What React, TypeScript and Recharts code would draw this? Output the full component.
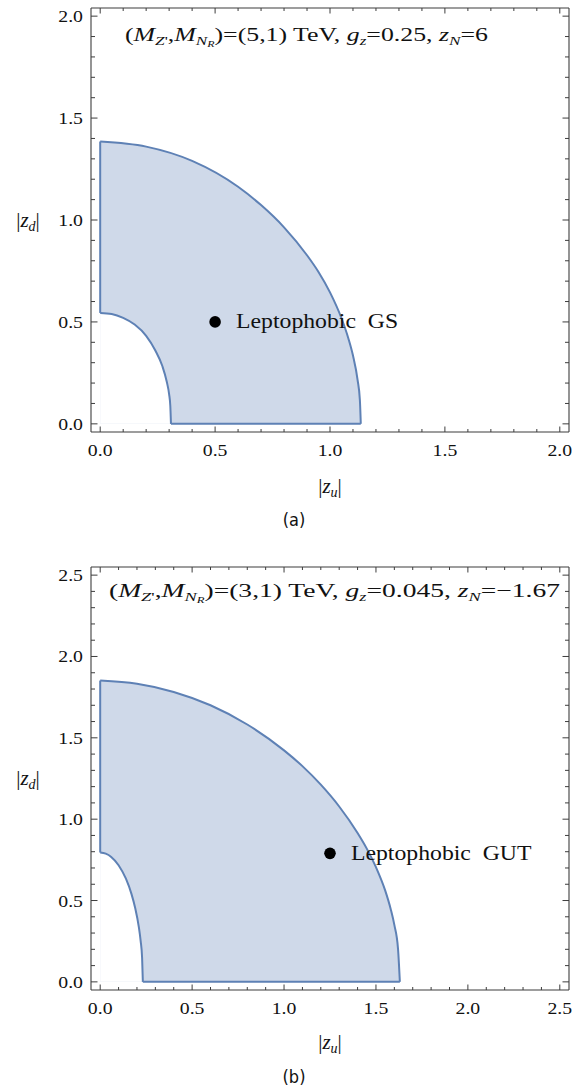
import React from "react";
import { ComposedChart, Area, Line, Scatter, XAxis, YAxis } from "recharts";

// panel (a): (M_Z', M_NR) = (5,1) TeV
const A_OUTER_X = [0, 0.2, 0.4, 0.6, 0.7, 0.8, 0.9, 0.95, 1.0, 1.05, 1.08, 1.1, 1.12, 1.13, 1.134];
const A_OUTER_Y = [1.385, 1.36, 1.29, 1.163, 1.073, 0.964, 0.827, 0.745, 0.645, 0.518, 0.419, 0.335, 0.216, 0.117, 0];
const A_INNER_X = [0, 0.05, 0.1, 0.15, 0.2, 0.24, 0.27, 0.29, 0.3, 0.305, 0.308];
const A_INNER_Y = [0.544, 0.539, 0.52, 0.487, 0.432, 0.36, 0.285, 0.205, 0.145, 0.09, 0];
const A_POINT = [{ x: 0.5, y: 0.5, name: "Leptophobic\u00a0 GS" }];
const A_TICKS = [0, 0.1, 0.2, 0.3, 0.4, 0.5, 0.6, 0.7, 0.8, 0.9, 1, 1.1, 1.2, 1.3, 1.4, 1.5, 1.6, 1.7, 1.8, 1.9, 2];
const A_DOMAIN = [-0.04, 2.04];

// panel (b): (M_Z', M_NR) = (3,1) TeV
const B_OUTER_X = [0, 0.2, 0.4, 0.6, 0.8, 1.0, 1.1, 1.2, 1.3, 1.4, 1.45, 1.5, 1.55, 1.58, 1.6, 1.62, 1.63];
const B_OUTER_Y = [1.852, 1.832, 1.782, 1.7, 1.582, 1.423, 1.326, 1.212, 1.078, 0.915, 0.819, 0.705, 0.562, 0.448, 0.35, 0.203, 0];
const B_INNER_X = [0, 0.03, 0.06, 0.1, 0.14, 0.17, 0.19, 0.21, 0.22, 0.228, 0.232];
const B_INNER_Y = [0.795, 0.788, 0.768, 0.717, 0.634, 0.541, 0.456, 0.338, 0.252, 0.147, 0];
const B_POINT = [{ x: 1.25, y: 0.79, name: "Leptophobic\u00a0 GUT" }];
const B_TICKS = [0, 0.1, 0.2, 0.3, 0.4, 0.5, 0.6, 0.7, 0.8, 0.9, 1, 1.1, 1.2, 1.3, 1.4, 1.5, 1.6, 1.7, 1.8, 1.9, 2, 2.1, 2.2, 2.3, 2.4, 2.5];
const B_DOMAIN = [-0.05, 2.55];

const FRAME = "#3d3d3d";
const EDGE = "#5e81b5";
const FILL = "#cfd9e9";
const SERIF = "Liberation Serif, serif";
const STRETCH = 1.13;
const PLOT_LEFT = 91;
const PLOT_RIGHT_GAP = 7;
const PLOT_W = 576 - PLOT_LEFT - PLOT_RIGHT_GAP;

const zip = (xs: number[], ys: number[]) => xs.map((x, i) => ({ x, y: ys[i] }));
const isMajor = (v: number) => Math.abs(v * 2 - Math.round(v * 2)) < 1e-6;

// tick marks as one broken line per frame side (null y breaks the path)
function xTicks(ticks: number[], base: number, unitsPerPx: number, dir: number) {
  const out: any[] = [];
  ticks.forEach((v) => {
    const len = (isMajor(v) ? 5.5 : 3) * unitsPerPx;
    out.push({ x: v, y: base }, { x: v, y: base + dir * len }, { x: v, y: null });
  });
  return out;
}
function yTicks(ticks: number[], base: number, unitsPerPx: number, dir: number) {
  const out: any[] = [];
  ticks.forEach((v) => {
    const len = (isMajor(v) ? 6.5 : 4) * unitsPerPx;
    out.push({ x: base, y: v }, { x: base + dir * len, y: v }, { x: base, y: null });
  });
  return out;
}

const tickText = (x: number, y: number, anchor: string, v: number) => (
  <text transform={`translate(${x},${y}) scale(${STRETCH},1)`} textAnchor={anchor}
    fontFamily={SERIF} fontSize={17.5} fill="#111">
    {v.toFixed(1)}
  </text>
);
const BottomLabel = (p: any) => (isMajor(p.payload.value) ? tickText(p.x, p.y + 24, "middle", p.payload.value) : <g />);
const LeftLabel = (p: any) => (isMajor(p.payload.value) ? tickText(p.x - 8, p.y + 6, "end", p.payload.value) : <g />);

const pointShape = (p: any) => (
  <g>
    <circle cx={p.cx} cy={p.cy} r={5.8} fill="#000" />
    <text transform={`translate(${p.cx + 21},${p.cy + 6.5}) scale(${STRETCH},1)`}
      fontFamily={SERIF} fontSize={21} fill="#111">
      {p.payload.name}
    </text>
  </g>
);

const Title = ({ x, y, len, mz, g, zn }: any) => (
  <text x={x} y={y} fontFamily={SERIF} fontSize={19.5} fill="#111" textLength={len} lengthAdjust="spacingAndGlyphs">
    {"("}
    <tspan fontStyle="italic">M</tspan>
    <tspan fontStyle="italic" fontSize={13} dy={4}>Z</tspan>
    <tspan fontSize={13}>{"'"}</tspan>
    <tspan dy={-4}>{","}</tspan>
    <tspan fontStyle="italic">M</tspan>
    <tspan fontStyle="italic" fontSize={13} dy={4}>N</tspan>
    <tspan fontStyle="italic" fontSize={9} dy={2}>R</tspan>
    <tspan dy={-6}>{`)=(${mz},1) TeV, `}</tspan>
    <tspan fontStyle="italic">g</tspan>
    <tspan fontStyle="italic" fontSize={13} dy={4}>z</tspan>
    <tspan dy={-4}>{`=${g}, `}</tspan>
    <tspan fontStyle="italic">z</tspan>
    <tspan fontStyle="italic" fontSize={13} dy={4}>N</tspan>
    <tspan dy={-4}>{`=${zn}`}</tspan>
  </text>
);

const AbsLabel = ({ x, y, sub }: any) => (
  <text x={x} y={y} textAnchor="middle" fontFamily={SERIF} fontSize={21} fill="#111">
    {"|"}
    <tspan fontStyle="italic">z</tspan>
    <tspan fontStyle="italic" fontSize={14} dy={4}>{sub}</tspan>
    <tspan dy={-4}>{"|"}</tspan>
  </text>
);

const Caption = ({ x, y, children }: any) => (
  <text x={x} y={y} textAnchor="middle" fontFamily="DejaVu Sans Condensed, DejaVu Sans, sans-serif"
    fontSize={18} fill="#111">
    {children}
  </text>
);

function Panel({ top, height, marginTop, plotH, domain, ticks, outerX, outerY, innerX, innerY, point, annot }: any) {
  const [lo, hi] = domain;
  const ux = (hi - lo) / PLOT_W; // data units per pixel, horizontal
  const uy = (hi - lo) / plotH; // data units per pixel, vertical
  const outer = zip(outerX, outerY);
  const inner = zip(innerX, innerY);
  const leftEdge = [
    { x: innerX[0], y: innerY[0] },
    { x: outerX[0], y: outerY[0] },
  ];
  const bottomEdge = [
    { x: innerX[innerX.length - 1], y: 0 },
    { x: outerX[outerX.length - 1], y: 0 },
  ];
  const topFrame = [{ x: lo, y: hi }, { x: hi, y: hi }];
  const rightFrame = [{ x: hi, y: lo }, { x: hi, y: hi }];
  const sides = [
    xTicks(ticks, lo, uy, 1),
    xTicks(ticks, hi, uy, -1),
    yTicks(ticks, lo, ux, 1),
    yTicks(ticks, hi, ux, -1),
  ];
  const axisLine = { stroke: FRAME, strokeWidth: 1.1 };
  const common = {
    type: "number" as const, domain, ticks, interval: 0,
    tickSize: 0, tickMargin: 0, tickLine: false, axisLine,
  };
  return (
    <div style={{ position: "absolute", left: 0, top }}>
      <ComposedChart width={576} height={height}
        margin={{ top: marginTop, right: PLOT_RIGHT_GAP, bottom: 0, left: 0 }}>
        <XAxis xAxisId="b" orientation="bottom" dataKey="x" {...common} tick={BottomLabel}
          height={height - marginTop - plotH} label={() => annot} />
        <YAxis yAxisId="l" orientation="left" dataKey="y" {...common} tick={LeftLabel} width={PLOT_LEFT} />
        <Area xAxisId="b" yAxisId="l" data={outer} dataKey="y" type="monotone" baseValue={0}
          fill={FILL} fillOpacity={1} stroke={EDGE} strokeWidth={2} dot={false} activeDot={false}
          isAnimationActive={false} />
        <Area xAxisId="b" yAxisId="l" data={inner} dataKey="y" type="monotone" baseValue={0}
          fill="#ffffff" fillOpacity={1} stroke={EDGE} strokeWidth={2} dot={false} activeDot={false}
          isAnimationActive={false} />
        <Line xAxisId="b" yAxisId="l" data={leftEdge} dataKey="y" type="linear" stroke={EDGE}
          strokeWidth={2} dot={false} activeDot={false} isAnimationActive={false} />
        <Line xAxisId="b" yAxisId="l" data={bottomEdge} dataKey="y" type="linear" stroke={EDGE}
          strokeWidth={2} dot={false} activeDot={false} isAnimationActive={false} />
        <Line xAxisId="b" yAxisId="l" data={topFrame} dataKey="y" type="linear" stroke={FRAME}
          strokeWidth={1.1} dot={false} activeDot={false} isAnimationActive={false} />
        <Line xAxisId="b" yAxisId="l" data={rightFrame} dataKey="y" type="linear" stroke={FRAME}
          strokeWidth={1.1} dot={false} activeDot={false} isAnimationActive={false} />
        {sides.map((d, i) => (
          <Line key={i} xAxisId="b" yAxisId="l" data={d} dataKey="y" type="linear" stroke={FRAME}
            strokeWidth={1} dot={false} activeDot={false} connectNulls={false} isAnimationActive={false} />
        ))}
        <Scatter xAxisId="b" yAxisId="l" data={point} dataKey="y" shape={pointShape}
          isAnimationActive={false} />
      </ComposedChart>
    </div>
  );
}

export default function App() {
  const annotA = (
    <g>
      <Title x={125} y={41} len={363} mz={5} g="0.25" zn="6" />
      <AbsLabel x={28} y={227} sub="d" />
      <AbsLabel x={330} y={493} sub="u" />
      <Caption x={294} y={526}>(a)</Caption>
    </g>
  );
  const annotB = (
    <g>
      <Title x={109} y={57} len={451} mz={3} g="0.045" zn={"\u22121.67"} />
      <AbsLabel x={28} y={245} sub="d" />
      <AbsLabel x={330} y={509} sub="u" />
      <Caption x={294} y={543}>(b)</Caption>
    </g>
  );
  return (
    <div style={{ position: "absolute", left: 0, top: 0, width: 576, height: 1089, overflow: "hidden", background: "#fff" }}>
      <Panel top={0} height={540} marginTop={8} plotH={424} domain={A_DOMAIN} ticks={A_TICKS}
        outerX={A_OUTER_X} outerY={A_OUTER_Y} innerX={A_INNER_X} innerY={A_INNER_Y} point={A_POINT} annot={annotA} />
      <Panel top={540} height={549} marginTop={27} plotH={423} domain={B_DOMAIN} ticks={B_TICKS}
        outerX={B_OUTER_X} outerY={B_OUTER_Y} innerX={B_INNER_X} innerY={B_INNER_Y} point={B_POINT} annot={annotB} />
    </div>
  );
}
